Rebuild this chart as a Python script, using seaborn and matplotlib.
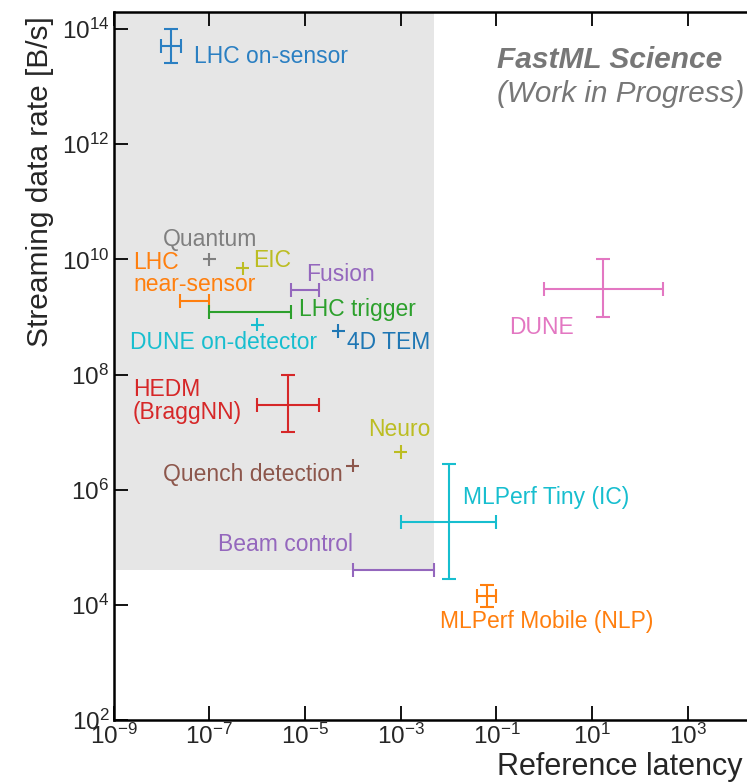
import numpy as np
import pandas as pd
import matplotlib
matplotlib.use("Agg")
import matplotlib.pyplot as plt
from matplotlib.patches import Rectangle
import seaborn as sns

# ---------------- data ----------------
names = ["LHC on-sensor", "Quantum", "LHC near-sensor", "EIC", "Fusion", "LHC trigger",
         "DUNE on-detector", "4D TEM", "HEDM (BraggNN)", "Neuro", "Quench detection",
         "MLPerf Tiny (IC)", "Beam control", "MLPerf Mobile (NLP)", "DUNE"]
latency = [1.6e-8, 1e-7, 5e-8, 5e-7, 1e-5, 7e-7, 1e-6, 5e-5, 4.5e-6, 1e-3, 1e-4,
           1e-2, 7e-4, 6.3e-2, 17]
lat_lo = [1e-8, np.nan, 2.5e-8, np.nan, 5e-6, 1e-7, np.nan, np.nan, 1e-6, np.nan, np.nan,
          1e-3, 1e-4, 4e-2, 1]
lat_hi = [2.6e-8, np.nan, 1e-7, np.nan, 2e-5, 5e-6, np.nan, np.nan, 2e-5, np.nan, np.nan,
          1e-1, 5e-3, 1e-1, 300]
rate = [5e13, 1e10, 1.9e9, 7e9, 2.9e9, 1.2e9, 7.3e8, 5.7e8, 3e7, 4.5e6, 2.6e6,
        2.7e5, 4.1e4, 1.4e4, 3e9]
rate_lo = [2.6e13, np.nan, np.nan, np.nan, np.nan, np.nan, np.nan, np.nan, 1e7, np.nan, np.nan,
           2.8e4, np.nan, 9e3, 1e9]
rate_hi = [1e14, np.nan, np.nan, np.nan, np.nan, np.nan, np.nan, np.nan, 1e8, np.nan, np.nan,
           2.8e6, np.nan, 2.2e4, 1e10]
colors = ["#2a7fc2", "#7f7f7f", "#ff7f0e", "#bcbd22", "#9467bd", "#2ca02c",
          "#17becf", "#1f77b4", "#d62728", "#bcbd22", "#8c564b",
          "#17becf", "#9467bd", "#ff7f0e", "#e377c2"]
xtick_vals = [1e-9, 1e-7, 1e-5, 1e-3, 1e-1, 1e1, 1e3]
ytick_vals = [1e2, 1e4, 1e6, 1e8, 1e10, 1e12, 1e14]
shade_x = [1e-9, 5e-3]
shade_y = [4.1e4, 1e15]

df = pd.DataFrame(dict(name=names, latency=latency, lat_lo=lat_lo, lat_hi=lat_hi,
                       rate=rate, rate_lo=rate_lo, rate_hi=rate_hi, color=colors))

# label layout: (log10 x of left edge, log10 y of baseline)
label_pos = {
    "LHC on-sensor": [(-7.32, 13.41, "LHC on-sensor")],
    "Quantum": [(-7.97, 10.24, "Quantum")],
    "LHC near-sensor": [(-8.59, 9.83, "LHC"), (-8.59, 9.45, "near-sensor")],
    "EIC": [(-6.09, 9.86, "EIC")],
    "Fusion": [(-4.98, 9.63, "Fusion")],
    "LHC trigger": [(-5.13, 9.02, "LHC trigger")],
    "DUNE on-detector": [(-8.66, 8.44, "DUNE on-detector")],
    "4D TEM": [(-4.12, 8.45, "4D TEM")],
    "HEDM (BraggNN)": [(-8.60, 7.62, "HEDM"), (-8.60, 7.22, "(BraggNN)")],
    "Neuro": [(-3.68, 6.93, "Neuro")],
    "Quench detection": [(-7.97, 6.155, "Quench detection")],
    "MLPerf Tiny (IC)": [(-1.69, 5.76, "MLPerf Tiny (IC)")],
    "Beam control": [(-6.81, 4.94, "Beam control")],
    "MLPerf Mobile (NLP)": [(-2.18, 3.59, "MLPerf Mobile (NLP)")],
    "DUNE": [(-0.73, 8.70, "DUNE")],
}

# ---------------- style ----------------
sns.set_theme(style="white")
plt.rcParams["font.family"] = ["Liberation Sans", "DejaVu Sans"]
plt.rcParams["mathtext.fontset"] = "custom"
plt.rcParams["mathtext.rm"] = "Liberation Sans"
plt.rcParams["mathtext.it"] = "Liberation Sans:italic"
plt.rcParams["mathtext.bf"] = "Liberation Sans:bold"

W, H = 747, 783
fig = plt.figure(figsize=(W / 100, H / 100), dpi=100)
fig.patch.set_facecolor("white")
left_px, right_px, top_px, bot_px = 113.6, 783.5, 12, 720
ax = fig.add_axes([left_px / W, (H - bot_px) / H, (right_px - left_px) / W, (bot_px - top_px) / H])
ax.set_xscale("log")
ax.set_yscale("log")
ax.set_xlim(1e-9, 1e5)
ax.set_ylim(1e2, 10 ** 14.296)
ax.set_facecolor("white")

ax.add_patch(Rectangle((shade_x[0], shade_y[0]), shade_x[1] - shade_x[0], shade_y[1] - shade_y[0],
                       facecolor="#e6e6e6", edgecolor="none", zorder=0))

# error bars
for _, r in df.iterrows():
    has_x = not np.isnan(r.lat_lo)
    has_y = not np.isnan(r.rate_lo)
    if not (has_x or has_y):
        continue
    xerr = [[r.latency - r.lat_lo], [r.lat_hi - r.latency]] if has_x else None
    yerr = [[r.rate - r.rate_lo], [r.rate_hi - r.rate]] if has_y else None
    ax.errorbar([r.latency], [r.rate], xerr=xerr, yerr=yerr, fmt="none",
                ecolor=r.color, elinewidth=1.5, capsize=4.7, capthick=1.5, zorder=3)

# plain markers
pts = df[df.lat_lo.isna() & df.rate_lo.isna()]
sns.scatterplot(data=pts, x="latency", y="rate", hue="name",
                palette=dict(zip(pts.name, pts.color)), marker="+", s=90,
                linewidth=1.5, legend=False, ax=ax, zorder=3)

# labels
for n, c in zip(names, colors):
    for lx, ly, t in label_pos[n]:
        ax.text(10 ** lx, 10 ** ly, t, color=c, fontsize=16.5, ha="left", va="baseline", zorder=4)

ax.text(10 ** -0.98, 10 ** 13.32, "FastML Science", color="#777777", fontsize=21.5,
        fontweight="bold", fontstyle="italic", ha="left", va="baseline")
ax.text(10 ** -0.98, 10 ** 12.73, "(Work in Progress)", color="#777777", fontsize=21.3,
        fontstyle="italic", ha="left", va="baseline")

# axes decoration
ax.set_xticks(xtick_vals)
ax.set_yticks(ytick_vals)
ax.set_xticklabels([r"$10^{%d}$" % int(round(np.log10(v))) for v in xtick_vals])
ax.set_yticklabels([r"$10^{%d}$" % int(round(np.log10(v))) for v in ytick_vals])
ax.minorticks_off()
ax.tick_params(axis="both", which="major", direction="in", length=10, width=1.3,
               labelsize=17.5, pad=3, top=True, right=True, bottom=True, left=True, color="black")
ax.tick_params(axis="x", pad=3)
for s in ax.spines.values():
    s.set_color("black")
    s.set_linewidth(1.8)

ax.set_xlabel("Reference latency", fontsize=22)
ax.xaxis.label.set_ha("left")
ax.xaxis.label.set_va("baseline")
ax.xaxis.set_label_coords((497 - left_px) / (right_px - left_px), -(775 - bot_px) / (bot_px - top_px))
ax.set_ylabel("Streaming data rate [B/s]", fontsize=21.5)
ax.yaxis.label.set_ha("center")
ax.yaxis.label.set_va("center")
ax.yaxis.set_label_coords(-(left_px - 40) / (right_px - left_px), (bot_px - 181.5) / (bot_px - top_px))

fig.savefig("out.png", dpi=100, facecolor="white")
